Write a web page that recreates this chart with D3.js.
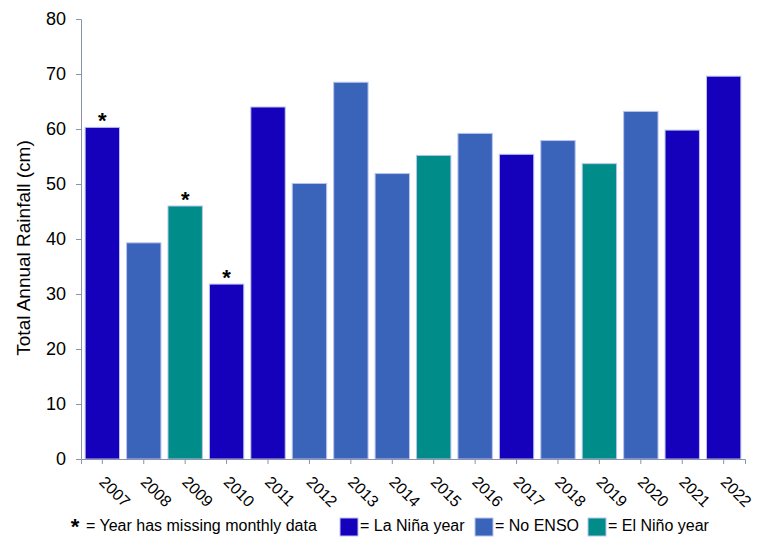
<!DOCTYPE html>
<html>
<head>
<meta charset="utf-8">
<script src="https://cdn.jsdelivr.net/npm/d3@7"></script>
<style>
  body { margin: 0; background: #fff; }
  text { font-family: "Liberation Sans", Arial, sans-serif; fill: #000; }
</style>
</head>
<body>
<div class="chart"></div>
<script>
var svgWidth = 765;
var svgHeight = 547;

var margin = { top: 19, right: 20, bottom: 88, left: 81 };

var chartWidth = svgWidth - margin.left - margin.right;
var chartHeight = svgHeight - margin.top - margin.bottom;

// data
var years = ["2007", "2008", "2009", "2010", "2011", "2012", "2013", "2014",
  "2015", "2016", "2017", "2018", "2019", "2020", "2021", "2022"];
var rainfall = [60.3, 39.3, 46.0, 31.8, 64.0, 50.1, 68.5, 51.9,
  55.2, 59.2, 55.4, 57.9, 53.7, 63.2, 59.8, 69.6];
var enso = ["nina", "none", "nino", "nina", "nina", "none", "none", "none",
  "nino", "none", "nina", "none", "nino", "none", "nina", "nina"];
var missing = ["2007", "2009", "2010"];
var yTicks = [0, 10, 20, 30, 40, 50, 60, 70, 80];

var colors = { nina: "#1500bb", none: "#3a64ba", nino: "#008c88" };

var svg = d3.select(".chart")
  .append("svg")
  .attr("width", svgWidth)
  .attr("height", svgHeight);

var chartGroup = svg.append("g")
  .attr("transform", `translate(${margin.left}, ${margin.top})`);

var x = d3.scaleBand()
  .domain(years)
  .range([0, 664])
  .paddingInner(0.17)
  .paddingOuter(0.1);

var y = d3.scaleLinear()
  .domain([0, 80])
  .range([chartHeight, 0]);

// bars
chartGroup.selectAll("rect.bar")
  .data(years)
  .enter()
  .append("rect")
  .attr("class", "bar")
  .attr("x", d => x(d))
  .attr("y", (d, i) => y(rainfall[i]))
  .attr("width", x.bandwidth())
  .attr("height", (d, i) => chartHeight - y(rainfall[i]))
  .attr("fill", (d, i) => colors[enso[i]])
  .attr("stroke", "#b9c3ef")
  .attr("stroke-width", 1);

// asterisks for missing data
chartGroup.selectAll("text.star")
  .data(missing)
  .enter()
  .append("text")
  .attr("class", "star")
  .attr("x", d => x(d) + x.bandwidth() / 2)
  .attr("y", d => y(rainfall[years.indexOf(d)]) + 1)
  .attr("text-anchor", "middle")
  .style("font-size", "22px")
  .style("font-weight", "bold")
  .text("*");

// axes
var leftAxis = d3.axisLeft(y).tickValues(yTicks).tickSizeOuter(0).tickSize(5).tickPadding(10);
var bottomAxis = d3.axisBottom(x).tickSizeOuter(0).tickSize(5).tickFormat("");

var yAxisG = chartGroup.append("g").call(leftAxis);
yAxisG.selectAll("text").style("font-size", "18px");

var xAxisG = chartGroup.append("g")
  .attr("transform", `translate(0, ${chartHeight})`)
  .call(bottomAxis);

chartGroup.selectAll(".domain, .tick line").attr("stroke", "#8a93aa");

// rotated year labels
chartGroup.selectAll("text.year")
  .data(years)
  .enter()
  .append("text")
  .attr("class", "year")
  .attr("transform", d => `translate(${x(d) + x.bandwidth() / 2}, ${chartHeight + 20}) rotate(45)`)
  .attr("dy", "0.35em")
  .style("font-size", "16px")
  .text(d => d);

// y axis title
svg.append("text")
  .attr("transform", "translate(30, 248) rotate(-90)")
  .attr("text-anchor", "middle")
  .style("font-size", "19px")
  .text("Total Annual Rainfall (cm)");

// legend
var legendY = 531;

svg.append("text")
  .attr("x", 75).attr("y", legendY + 3)
  .attr("text-anchor", "middle")
  .style("font-size", "22px").style("font-weight", "bold")
  .text("*");
svg.append("text")
  .attr("x", 86).attr("y", legendY)
  .style("font-size", "16px")
  .text("= Year has missing monthly data");

var legendItems = [
  { key: "nina", label: "= La Niña year", x: 340 },
  { key: "none", label: "= No ENSO", x: 475 },
  { key: "nino", label: "= El Niño year", x: 588 }
];

legendItems.forEach(function(item) {
  svg.append("rect")
    .attr("x", item.x).attr("y", legendY - 13)
    .attr("width", 18).attr("height", 18)
    .attr("fill", colors[item.key])
    .attr("stroke", "#b9c3ef");
  svg.append("text")
    .attr("x", item.x + 20).attr("y", legendY)
    .style("font-size", "16px")
    .text(item.label);
});
</script>
</body>
</html>
